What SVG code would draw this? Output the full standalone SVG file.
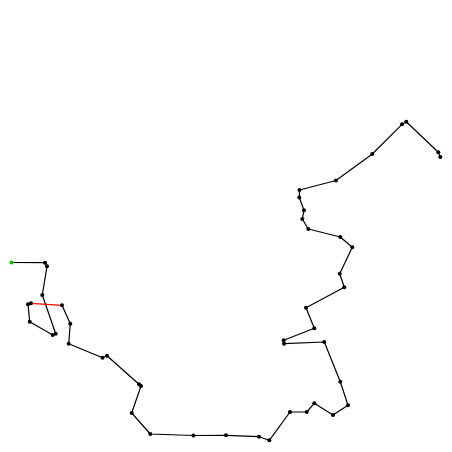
<svg xmlns="http://www.w3.org/2000/svg" width="452" height="452" viewBox="0 0 452 452">
<style>
.e{fill:none;stroke:#000;stroke-width:1.2;stroke-linejoin:round}
.r{fill:none;stroke:#f00;stroke-width:1.2}
.n{fill:#000}
.s{fill:#0c0}
</style>
<rect width="452" height="452" fill="#fff"/>
<g id="connectors">
<polyline class="e" points="11.5,262.5 45,262.7 47,266.3 42.3,295 55.7,333.7 52.7,335 29.7,321.7 28,304.3 31,303.3"/>
<line class="r" x1="31" y1="303.3" x2="62" y2="305.3"/>
<polyline class="e" points="62,305.3 70.3,323.7 68.7,343.7 102.5,357.7 107,355.7 139,384.3 141,386 131.7,413 150.3,434 193.5,435.5 226,435.3 259,436.7 269.3,440.3 290,412 306.7,412 314.3,403.3 333,415 348,405.2 340.3,381.7 324.3,342 284,343.7 283.7,340.3 314.3,328.3 306,307.7 344.3,287.3 339.7,273.7 352.3,247.3 340.3,237 308.3,229 302.3,219 304,210.3 299.3,197.5 299.5,190 336,180.5 372.3,154 402,124.3 406.3,121.7 438.3,152.3 440.3,157"/>
</g>
<g id="nodes">
<g id="n1"><circle class="s" cx="11.5" cy="262.5" r="2"/></g>
<g id="n2"><circle class="n" cx="45" cy="262.7" r="2"/></g>
<g id="n3"><circle class="n" cx="47" cy="266.3" r="2"/></g>
<g id="n4"><circle class="n" cx="42.3" cy="295" r="2"/></g>
<g id="n5"><circle class="n" cx="55.7" cy="333.7" r="2"/></g>
<g id="n6"><circle class="n" cx="52.7" cy="335" r="2"/></g>
<g id="n7"><circle class="n" cx="29.7" cy="321.7" r="2"/></g>
<g id="n8"><circle class="n" cx="28" cy="304.3" r="2"/></g>
<g id="n9"><circle class="n" cx="31" cy="303.3" r="2"/></g>
<g id="n10"><circle class="n" cx="62" cy="305.3" r="2"/></g>
<g id="n11"><circle class="n" cx="70.3" cy="323.7" r="2"/></g>
<g id="n12"><circle class="n" cx="68.7" cy="343.7" r="2"/></g>
<g id="n13"><circle class="n" cx="102.5" cy="357.7" r="2"/></g>
<g id="n14"><circle class="n" cx="107" cy="355.7" r="2"/></g>
<g id="n15"><circle class="n" cx="139" cy="384.3" r="2"/></g>
<g id="n16"><circle class="n" cx="141" cy="386" r="2"/></g>
<g id="n17"><circle class="n" cx="131.7" cy="413" r="2"/></g>
<g id="n18"><circle class="n" cx="150.3" cy="434" r="2"/></g>
<g id="n19"><circle class="n" cx="193.5" cy="435.5" r="2"/></g>
<g id="n20"><circle class="n" cx="226" cy="435.3" r="2"/></g>
<g id="n21"><circle class="n" cx="259" cy="436.7" r="2"/></g>
<g id="n22"><circle class="n" cx="269.3" cy="440.3" r="2"/></g>
<g id="n23"><circle class="n" cx="290" cy="412" r="2"/></g>
<g id="n24"><circle class="n" cx="306.7" cy="412" r="2"/></g>
<g id="n25"><circle class="n" cx="314.3" cy="403.3" r="2"/></g>
<g id="n26"><circle class="n" cx="333" cy="415" r="2"/></g>
<g id="n27"><circle class="n" cx="348" cy="405.2" r="2"/></g>
<g id="n28"><circle class="n" cx="340.3" cy="381.7" r="2"/></g>
<g id="n29"><circle class="n" cx="324.3" cy="342" r="2"/></g>
<g id="n30"><circle class="n" cx="284" cy="343.7" r="2"/></g>
<g id="n31"><circle class="n" cx="283.7" cy="340.3" r="2"/></g>
<g id="n32"><circle class="n" cx="314.3" cy="328.3" r="2"/></g>
<g id="n33"><circle class="n" cx="306" cy="307.7" r="2"/></g>
<g id="n34"><circle class="n" cx="344.3" cy="287.3" r="2"/></g>
<g id="n35"><circle class="n" cx="339.7" cy="273.7" r="2"/></g>
<g id="n36"><circle class="n" cx="352.3" cy="247.3" r="2"/></g>
<g id="n37"><circle class="n" cx="340.3" cy="237" r="2"/></g>
<g id="n38"><circle class="n" cx="308.3" cy="229" r="2"/></g>
<g id="n39"><circle class="n" cx="302.3" cy="219" r="2"/></g>
<g id="n40"><circle class="n" cx="304" cy="210.3" r="2"/></g>
<g id="n41"><circle class="n" cx="299.3" cy="197.5" r="2"/></g>
<g id="n42"><circle class="n" cx="299.5" cy="190" r="2"/></g>
<g id="n43"><circle class="n" cx="336" cy="180.5" r="2"/></g>
<g id="n44"><circle class="n" cx="372.3" cy="154" r="2"/></g>
<g id="n45"><circle class="n" cx="402" cy="124.3" r="2"/></g>
<g id="n46"><circle class="n" cx="406.3" cy="121.7" r="2"/></g>
<g id="n47"><circle class="n" cx="438.3" cy="152.3" r="2"/></g>
<g id="n48"><circle class="n" cx="440.3" cy="157" r="2"/></g>
</g>
</svg>
